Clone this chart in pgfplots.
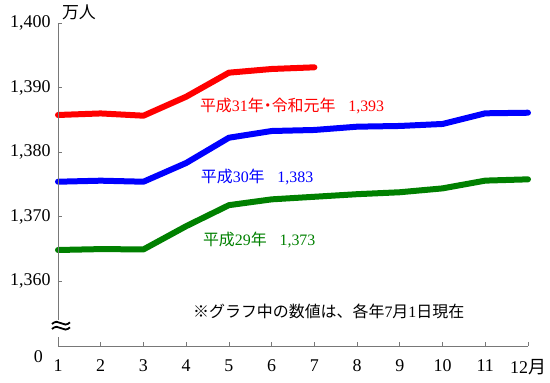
\documentclass[border=0pt]{standalone}
\usepackage{fontspec}
\setmainfont{Liberation Serif}
\newfontfamily\jp{Noto Sans CJK JP}
\usepackage{pgfplots}
\pgfplotsset{compat=1.18}
\usetikzlibrary{calc}
\definecolor{cred}{RGB}{255,0,0}
\definecolor{cblue}{RGB}{0,0,255}
\definecolor{cgreen}{RGB}{0,128,0}
\definecolor{axgray}{RGB}{120,120,120}
\begin{document}
\begin{tikzpicture}
\begin{axis}[name=a, scale only axis, width=470bp, height=323bp,
  xmin=1, xmax=12, ymin=1350, ymax=1400,
  axis x line=bottom, axis y line=left,
  axis line style={axgray, line width=0.8bp, -},
  y axis line style={draw=none},
  xtick={1,...,12},
  xticklabels={1,2,3,4,5,6,7,8,9,10,11,{12{\jp 月}}},
  ytick={1360,1370,1380,1390,1400},
  /pgf/number format/1000 sep={,},
  /pgf/number format/assume math mode=true,
  tick align=inside, major tick length=4bp,
  tick style={axgray, line width=0.8bp},
  tick label style={font=\fontsize{18}{18}\selectfont},
  xticklabel shift=10bp, yticklabel shift=4bp,
  clip=false]
\addplot[cgreen, line width=6bp, line join=round, line cap=round] coordinates {
(1,1364.86) (2,1365.00) (3,1364.95) (4,1368.55) (5,1371.8) (6,1372.7) (7,1373.1) (8,1373.5) (9,1373.8) (10,1374.4) (11,1375.6) (12,1375.8)};
\addplot[cblue, line width=6bp, line join=round, line cap=round] coordinates {
(1,1375.43) (2,1375.59) (3,1375.43) (4,1378.33) (5,1382.24) (6,1383.28) (7,1383.44) (8,1383.95) (9,1384.06) (10,1384.37) (11,1386.02) (12,1386.11)};
\addplot[cred, line width=6bp, line join=round, line cap=round] coordinates {
(1,1385.76) (2,1386.0) (3,1385.65) (4,1388.59) (5,1392.31) (6,1392.88) (7,1393.14)};
\node[anchor=west, text=cred, font=\fontsize{16}{16}\selectfont, inner sep=0] at (axis cs:4.32,1387.2) {{\jp 平成}31{\jp 年}\hspace{-0.25em}{\jp ・}\hspace{-0.25em}{\jp 令和元年}\hspace{0.8em}1,393};
\node[anchor=west, text=cblue, font=\fontsize{16}{16}\selectfont, inner sep=0] at (axis cs:4.34,1376.2) {{\jp 平成}30{\jp 年}\hspace{0.8em}1,383};
\node[anchor=west, text=cgreen, font=\fontsize{16}{16}\selectfont, inner sep=0] at (axis cs:4.39,1366.4) {{\jp 平成}29{\jp 年}\hspace{0.8em}1,373};
\node[anchor=west, font=\fontsize{16}{16}\selectfont, inner sep=0] at (axis cs:4.16,1355.4) {{\jp ※グラフ中の数値は、各年}7{\jp 月}1{\jp 日現在}};
\node[anchor=west, font=\fontsize{17}{17}\selectfont, inner sep=0] at (axis cs:1.09,1401.6) {\jp 万人};
\node[anchor=east, font=\fontsize{18}{18}\selectfont, inner sep=0] at (axis cs:0.65,1348.4) {0};
\draw[axgray, line width=0.8bp] (axis cs:1,1354.0) -- (axis cs:1,1400);
\draw[axgray, line width=0.8bp] (axis cs:1,1350) -- (axis cs:1,1351.4);
\coordinate (brk) at (axis cs:1.07,1353.1);
\end{axis}
\begin{scope}[shift={(brk)}, line width=1.8bp, black]
\draw (-9bp,2.0bp) sin (-4.5bp,4.2bp) cos (0bp,2.8bp) sin (4.5bp,1.4bp) cos (9bp,3.6bp);
\draw (-9bp,-3.0bp) sin (-4.5bp,-0.8bp) cos (0bp,-2.2bp) sin (4.5bp,-3.6bp) cos (9bp,-1.4bp);
\end{scope}
\pgfresetboundingbox
\path ($(a.south west)+(-58bp,-37bp)$) rectangle ($(a.south west)+(492bp,346bp)$);
\end{tikzpicture}
\end{document}
